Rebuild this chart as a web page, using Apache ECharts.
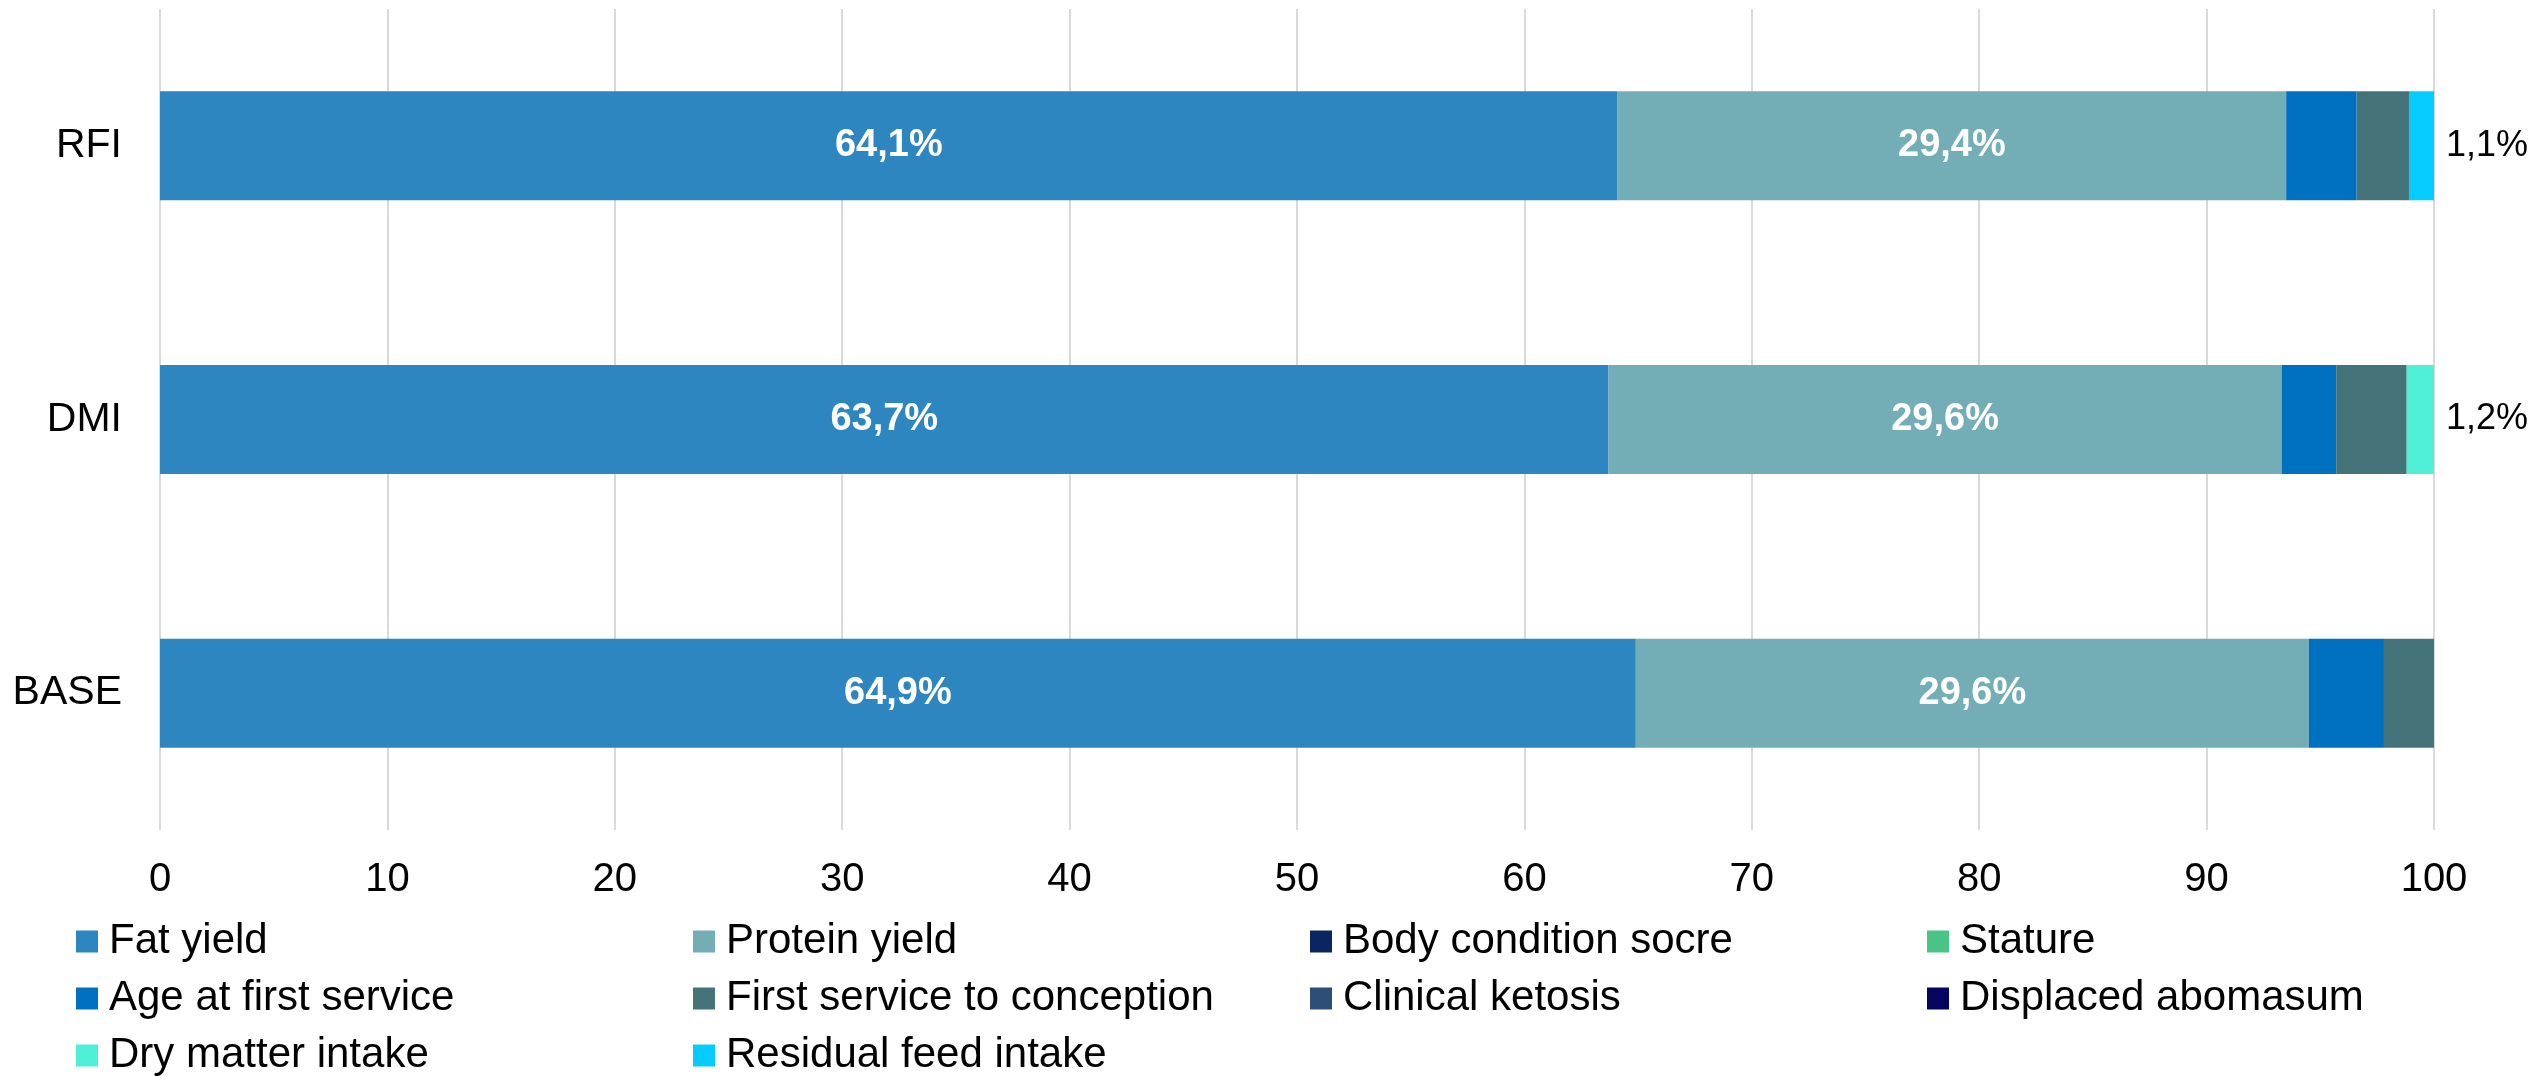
<!DOCTYPE html>
<html>
<head>
<meta charset="utf-8">
<script src="https://cdn.jsdelivr.net/npm/echarts@6/dist/echarts.min.js"></script>
<style>
html,body{margin:0;padding:0;background:#fff;}
#chart{width:2534px;height:1076px;}
</style>
</head>
<body>
<div id="chart"></div>
<script>
// Categories (bottom to top)
const categories = ['BASE', 'DMI', 'RFI'];
const xTicks = [0, 10, 20, 30, 40, 50, 60, 70, 80, 90, 100];

// Series values, ordered as categories
const fatYield = [64.9, 63.7, 64.1];
const proteinYield = [29.6, 29.6, 29.4];
const bodyCondition = [0, 0, 0];
const stature = [0, 0, 0];
const ageFirstService = [3.3, 2.4, 3.1];
const firstServiceConception = [2.2, 3.1, 2.3];
const clinicalKetosis = [0, 0, 0];
const displacedAbomasum = [0, 0, 0];
const dryMatterIntake = [0, 1.2, 0];
const residualFeedIntake = [0, 0, 1.1];

const seriesNames = ['Fat yield', 'Protein yield', 'Body condition socre', 'Stature',
  'Age at first service', 'First service to conception', 'Clinical ketosis',
  'Displaced abomasum', 'Dry matter intake', 'Residual feed intake'];
const seriesData = [fatYield, proteinYield, bodyCondition, stature, ageFirstService,
  firstServiceConception, clinicalKetosis, displacedAbomasum, dryMatterIntake, residualFeedIntake];
const colors = ['#2E86C1', '#73ADB5', '#0B2561', '#48C585', '#0070C0',
  '#44747A', '#2E4E78', '#05055F', '#50EFD8', '#04CCFF'];

const fmt = v => v.toFixed(1).replace('.', ',') + '%';
const FONT = '"Liberation Sans", Arial, sans-serif';

const series = seriesNames.map((name, i) => {
  const s = {
    name: name,
    type: 'bar',
    stack: 'total',
    barWidth: 109,
    data: seriesData[i],
    itemStyle: { color: colors[i] },
    emphasis: { disabled: true }
  };
  if (i === 0 || i === 1) {
    s.label = {
      show: true, position: 'inside', color: '#fff', fontWeight: 'bold',
      fontSize: 38, fontFamily: FONT,
      formatter: p => fmt(p.value)
    };
  } else if (i === 8 || i === 9) {
    s.label = {
      show: true, position: 'right', distance: 12, color: '#000',
      fontSize: 36, fontFamily: FONT,
      formatter: p => (p.value > 0 ? fmt(p.value) : '')
    };
  }
  return s;
});

const chart = echarts.init(document.getElementById('chart'), null, { renderer: 'canvas' });
chart.setOption({
  animation: false,
  color: colors,
  grid: { left: 160, right: 100, top: 9, bottom: 246, containLabel: false },
  xAxis: {
    type: 'value', min: xTicks[0], max: xTicks[xTicks.length - 1], interval: 10,
    axisLine: { show: false }, axisTick: { show: false },
    splitLine: { show: true, lineStyle: { color: '#D9D9D9', width: 2 } },
    axisLabel: { color: '#000', fontSize: 40, fontFamily: FONT, margin: 30 }
  },
  yAxis: {
    type: 'category', data: categories,
    axisLine: { show: false }, axisTick: { show: false },
    axisLabel: { color: '#000', fontSize: 41, fontFamily: FONT, margin: 38 }
  },
  legend: {
    data: seriesNames,
    left: 76, top: 913, width: 2470, padding: 0,
    itemWidth: 22, itemHeight: 22, itemGap: 0,
    icon: 'rect',
    textStyle: { color: '#000', fontSize: 42, fontFamily: FONT, width: 584,
      lineHeight: 57, padding: [0, 0, 0, 6] }
  },
  series: series
});
</script>
</body>
</html>
